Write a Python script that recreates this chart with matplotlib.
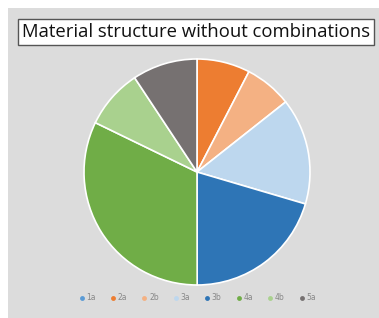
import matplotlib.pyplot as plt
from matplotlib.lines import Line2D

labels = ['1a', '2a', '2b', '3a', '3b', '4a', '4b', '5a']
values = [0, 7.6, 6.75, 15.2, 20.4, 32.2, 8.5, 9.3]
colors = ['#5B9BD5', '#ED7D31', '#F4B183', '#BDD7EE', '#2E75B6', '#70AD47', '#A9D18E', '#767171']

fig = plt.figure(figsize=(3.79, 3.18), dpi=100)
fig.patch.set_facecolor('white')

# grey panel behind everything
bg = fig.add_axes([8 / 379, 0, 1, 1 - 8 / 318], zorder=-1)
bg.set_facecolor('#DCDCDC')
bg.set_xticks([])
bg.set_yticks([])
for s in bg.spines.values():
    s.set_visible(False)

r = 113
ax = fig.add_axes([(197 - r) / 379, 1 - (172 + r) / 318, 2 * r / 379, 2 * r / 318])
ax.pie(values, colors=colors, startangle=90, counterclock=False,
       wedgeprops=dict(edgecolor='white', linewidth=1.2))
ax.set_xlim(-1, 1)
ax.set_ylim(-1, 1)
ax.set_aspect('equal')

fig.text(196 / 379, 1 - 32 / 318, 'Material structure without combinations',
         ha='center', va='center', fontsize=13.3, family='Open Sans', color='#111111',
         bbox=dict(boxstyle='square,pad=0.22', facecolor='white', edgecolor='#555555', linewidth=1))

handles = [Line2D([], [], marker='o', linestyle='none', markersize=3.5,
                  markerfacecolor=c, markeredgecolor='none') for c in colors]
fig.legend(handles, labels, loc='center', bbox_to_anchor=(197 / 379, 1 - 298 / 318), ncol=8,
           frameon=False, fontsize=5.5, labelcolor='#888888', handletextpad=0.1,
           columnspacing=1.75, handlelength=1.0)

fig.savefig('out.png', dpi=100)
